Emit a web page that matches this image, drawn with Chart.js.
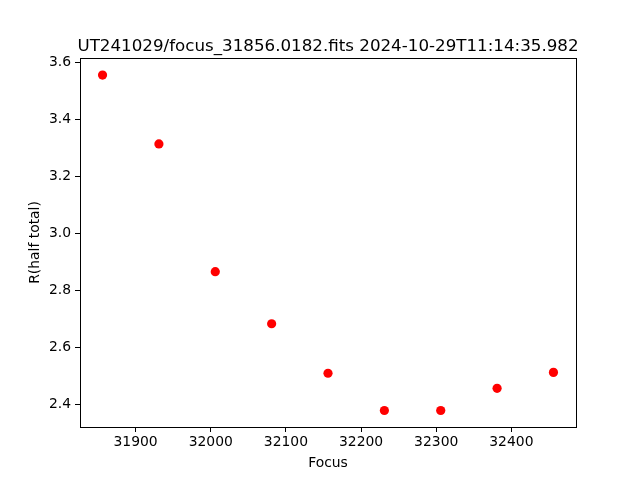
<!DOCTYPE html>
<html>
<head>
<meta charset="utf-8">
<script src="https://cdn.jsdelivr.net/npm/chart.js@4.4.0/dist/chart.umd.min.js"></script>
<style>
html,body{margin:0;padding:0;background:#fff;}
canvas{display:block;}
</style>
</head>
<body>
<canvas id="c" width="640" height="480"></canvas>
<script>
const focusValues = [31856, 31931, 32006, 32081, 32156, 32231, 32306, 32381, 32456];
const radiusValues = [3.557, 3.315, 2.866, 2.683, 2.509, 2.378, 2.378, 2.456, 2.512];
const xTickValues = [31900, 32000, 32100, 32200, 32300, 32400];
const yTickValues = [2.4, 2.6, 2.8, 3.0, 3.2, 3.4, 3.6];
const chartTitle = "UT241029/focus_31856.0182.fits 2024-10-29T11:14:35.982";
const xLabel = "Focus";
const yLabel = "R(half total)";

const FONT = "'DejaVu Sans', sans-serif";

const boxPlugin = {
  id: 'box',
  afterDraw(chart) {
    const a = chart.chartArea, ctx = chart.ctx;
    ctx.save();
    ctx.strokeStyle = '#000';
    ctx.lineWidth = 1;
    ctx.strokeRect(Math.round(a.left) + 0.5, Math.round(a.top) + 0.5, Math.round(a.right - a.left), Math.round(a.bottom - a.top));
    ctx.fillStyle = '#000';
    ctx.font = "16.7px " + FONT;
    ctx.textAlign = 'center';
    ctx.textBaseline = 'alphabetic';
    ctx.fillText(chartTitle, (a.left + a.right) / 2, a.top - 7);
    ctx.restore();
  }
};

const data = focusValues.map((x, i) => ({x: x, y: radiusValues[i]}));

new Chart(document.getElementById('c'), {
  type: 'scatter',
  data: {
    datasets: [{
      data: data,
      backgroundColor: '#ff0000',
      borderColor: '#ff0000',
      pointRadius: 4.6,
      pointHoverRadius: 4.6,
      borderWidth: 0
    }]
  },
  options: {
    responsive: false,
    animation: false,
    devicePixelRatio: 1,
    layout: {padding: {top: 58, right: 64, left: 0, bottom: 0}},
    plugins: {legend: {display: false}, tooltip: {enabled: false}, title: {display: false}},
    scales: {
      x: {
        type: 'linear',
        min: 31826,
        max: 32486,
        afterBuildTicks(scale) { scale.ticks = xTickValues.map(v => ({value: v})); },
        afterFit(scale) { scale.height = 53; },
        grid: {display: true, drawOnChartArea: false, drawTicks: true, tickLength: 5, color: '#000', tickColor: '#000'},
        border: {display: false},
        ticks: {color: '#000', font: {family: FONT, size: 13.9}, padding: 2, maxRotation: 0, callback: v => String(v)},
        title: {display: true, text: xLabel, color: '#000', font: {family: FONT, size: 13.9}, padding: {top: 2, bottom: 8}}
      },
      y: {
        type: 'linear',
        min: 2.32,
        max: 3.617,
        afterBuildTicks(scale) { scale.ticks = yTickValues.map(v => ({value: v})); },
        afterFit(scale) { scale.width = 80; },
        grid: {display: true, drawOnChartArea: false, drawTicks: true, tickLength: 5, color: '#000', tickColor: '#000'},
        border: {display: false},
        ticks: {color: '#000', font: {family: FONT, size: 13.9}, padding: 4, callback: v => v.toFixed(1)},
        title: {display: true, text: yLabel, color: '#000', font: {family: FONT, size: 13.9}, padding: {top: 27, bottom: 0}}
      }
    }
  },
  plugins: [boxPlugin]
});
</script>
</body>
</html>
